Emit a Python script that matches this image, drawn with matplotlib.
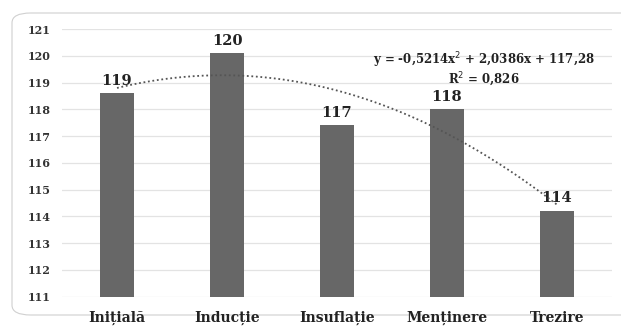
import numpy as np
import matplotlib.pyplot as plt
from matplotlib.patches import FancyBboxPatch

categories = ["Inițială", "Inducție", "Insuflație", "Menținere", "Trezire"]
values = [118.6, 120.1, 117.4, 118.0, 114.2]
value_labels = ["119", "120", "117", "118", "114"]
y_ticks = list(range(111, 122))
trend_text = "y = -0,5214x$^2$ + 2,0386x + 117,28\nR$^2$ = 0,826"

BAR_COLOR = "#676767"
GRID_COLOR = "#e3e3e3"
FONT = "DejaVu Serif"

fig = plt.figure(figsize=(6.21, 3.27), dpi=100)

# rounded chart frame, kept behind the axes
frame = FancyBboxPatch((12 / 621, 12 / 327), 640 / 621, 302 / 327,
                       boxstyle="round,pad=0,rounding_size=0.03",
                       transform=fig.transFigure, facecolor="white",
                       edgecolor="#d0d0d0", linewidth=0.8, zorder=-5)
fig.patches.append(frame)

ax = fig.add_axes([62 / 621, 30.3 / 327, 550 / 621, 267.7 / 327])
ax.set_facecolor("none")
ax.set_zorder(2)

x = np.arange(1, len(values) + 1)
ax.bar(x, values, width=0.31, color=BAR_COLOR, zorder=2)

ax.set_ylim(111, 121)
ax.set_xlim(0.5, len(values) + 0.5)
ax.set_yticks(y_ticks)
ax.set_yticklabels([str(t) for t in y_ticks], fontfamily=FONT,
                   fontweight="bold", fontsize=8, color="#333333")
ax.set_xticks(x)
ax.set_xticklabels(categories, fontfamily=FONT, fontweight="bold",
                   fontsize=10, color="#222222", va="baseline")
ax.tick_params(axis="both", length=0)
ax.tick_params(axis="y", pad=8)
ax.tick_params(axis="x", pad=18)
ax.grid(axis="y", color=GRID_COLOR, linewidth=0.9, zorder=0)
ax.set_axisbelow(True)
for s in ax.spines.values():
    s.set_visible(False)

# data labels
for xi, v, lab in zip(x, values, value_labels):
    ax.annotate(lab, (xi, v), xytext=(0, 4), textcoords="offset points",
                ha="center", va="bottom", fontfamily=FONT,
                fontweight="bold", fontsize=10.5, color="#222222")

# polynomial trendline
fit = np.polyfit(x, values, 2)
poly = np.poly1d(fit)
xs = np.linspace(1, len(values), 200)
ax.plot(xs, poly(xs), linestyle=(0, (1, 1.5)), color="#555555",
        linewidth=1.3, zorder=3)

ax.text(484 / 621, 257 / 327, trend_text, transform=fig.transFigure,
        ha="center", va="center", fontfamily=FONT, fontweight="bold",
        fontsize=8.5, color="#222222", linespacing=1.05)

plt.savefig("out.png", dpi=100)
plt.close()
